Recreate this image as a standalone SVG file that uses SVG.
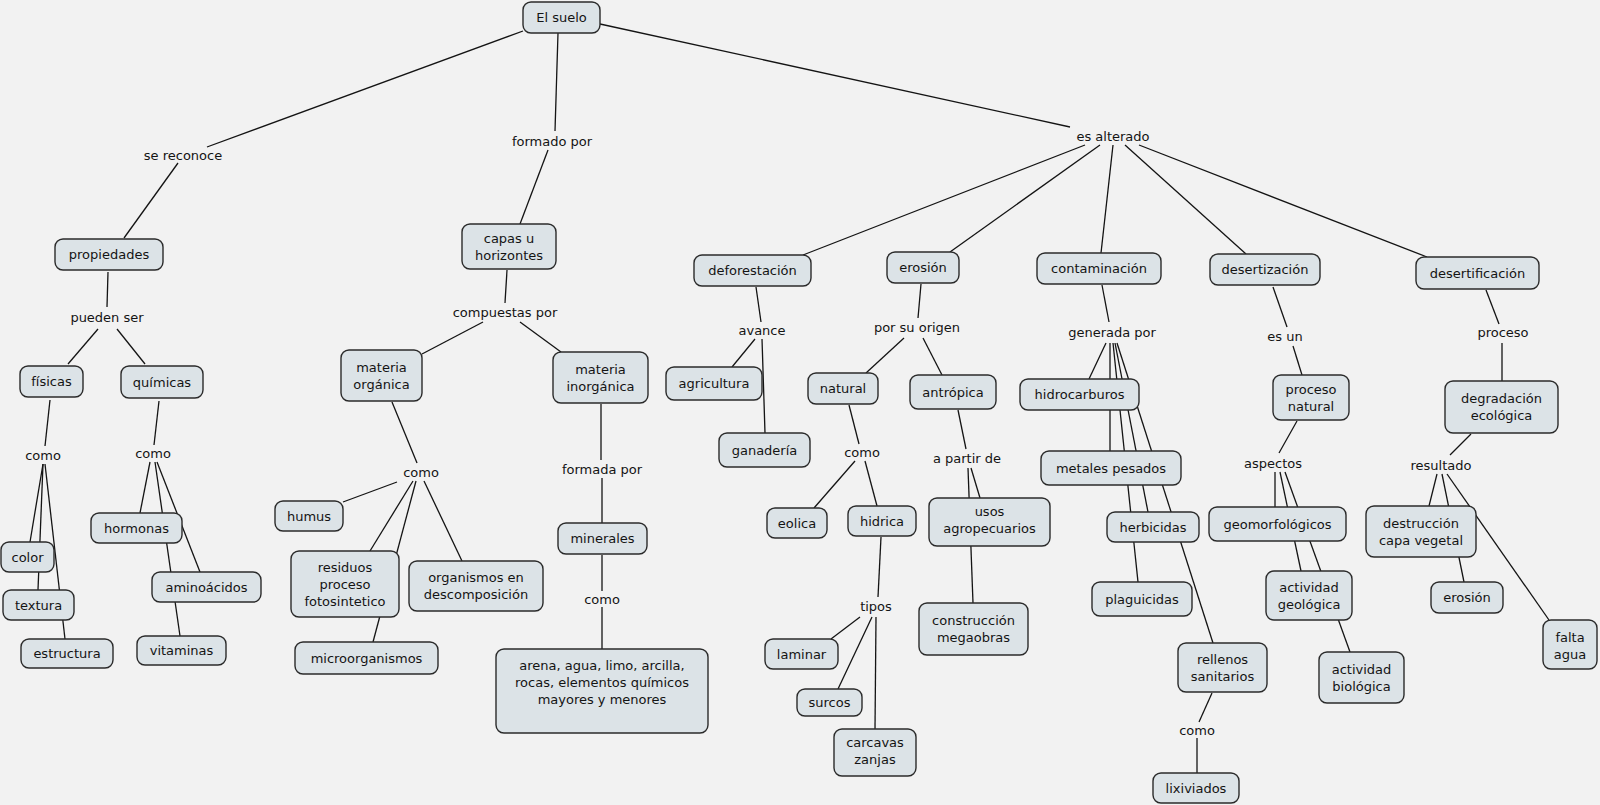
<svg xmlns="http://www.w3.org/2000/svg" width="1600" height="805" viewBox="0 0 1600 805">
<style>
.n{fill:#dce3e7;stroke:#2b2b2b;stroke-width:1.4}
text{font-family:"DejaVu Sans",Verdana,sans-serif;font-size:13px;fill:#141414;text-anchor:middle;dominant-baseline:central}
#connectors line{stroke:#141414;stroke-width:1.3}
</style>
<rect width="1600" height="805" fill="#f2f2f2"/>
<g id="connectors">
<line x1="523" y1="31" x2="207" y2="147"/>
<line x1="178" y1="163" x2="124" y2="238"/>
<line x1="108" y1="272" x2="107" y2="307"/>
<line x1="98" y1="329" x2="68" y2="364"/>
<line x1="117" y1="329" x2="145" y2="364"/>
<line x1="50" y1="400" x2="45" y2="446"/>
<line x1="43" y1="464" x2="30" y2="542"/>
<line x1="43" y1="464" x2="38" y2="590"/>
<line x1="45" y1="464" x2="65" y2="639"/>
<line x1="159" y1="401" x2="154" y2="445"/>
<line x1="150" y1="462" x2="140" y2="513"/>
<line x1="155" y1="462" x2="180" y2="636"/>
<line x1="157" y1="462" x2="200" y2="572"/>
<line x1="558" y1="33" x2="555" y2="131"/>
<line x1="548" y1="150" x2="520" y2="224"/>
<line x1="507" y1="270" x2="505" y2="303"/>
<line x1="483" y1="322" x2="422" y2="354"/>
<line x1="520" y1="322" x2="561" y2="352"/>
<line x1="392" y1="402" x2="417" y2="463"/>
<line x1="397" y1="482" x2="343" y2="502"/>
<line x1="413" y1="481" x2="370" y2="551"/>
<line x1="416" y1="481" x2="373" y2="642"/>
<line x1="424" y1="481" x2="462" y2="561"/>
<line x1="601" y1="404" x2="601" y2="460"/>
<line x1="602" y1="478" x2="602" y2="523"/>
<line x1="602" y1="555" x2="602" y2="591"/>
<line x1="602" y1="607" x2="602" y2="649"/>
<line x1="600" y1="24" x2="1070" y2="127"/>
<line x1="1085" y1="145" x2="803" y2="255"/>
<line x1="1100" y1="145" x2="950" y2="252"/>
<line x1="1113" y1="145" x2="1101" y2="253"/>
<line x1="1125" y1="145" x2="1246" y2="254"/>
<line x1="1139" y1="145" x2="1427" y2="257"/>
<line x1="756" y1="287" x2="761" y2="322"/>
<line x1="755" y1="339" x2="732" y2="367"/>
<line x1="762" y1="339" x2="765" y2="433"/>
<line x1="921" y1="284" x2="918" y2="318"/>
<line x1="904" y1="338" x2="866" y2="373"/>
<line x1="923" y1="338" x2="942" y2="375"/>
<line x1="849" y1="405" x2="859" y2="444"/>
<line x1="855" y1="461" x2="814" y2="508"/>
<line x1="865" y1="461" x2="877" y2="506"/>
<line x1="958" y1="410" x2="966" y2="449"/>
<line x1="971" y1="468" x2="980" y2="498"/>
<line x1="968" y1="468" x2="973" y2="603"/>
<line x1="881" y1="537" x2="878" y2="597"/>
<line x1="860" y1="617" x2="831" y2="639"/>
<line x1="872" y1="617" x2="838" y2="689"/>
<line x1="876" y1="617" x2="875" y2="729"/>
<line x1="1102" y1="285" x2="1109" y2="322"/>
<line x1="1106" y1="343" x2="1089" y2="379"/>
<line x1="1110" y1="343" x2="1110" y2="451"/>
<line x1="1113" y1="343" x2="1138" y2="582"/>
<line x1="1115" y1="343" x2="1148" y2="512"/>
<line x1="1117" y1="343" x2="1213" y2="643"/>
<line x1="1212" y1="693" x2="1199" y2="722"/>
<line x1="1197" y1="738" x2="1197" y2="773"/>
<line x1="1273" y1="287" x2="1287" y2="327"/>
<line x1="1293" y1="346" x2="1302" y2="375"/>
<line x1="1297" y1="421" x2="1279" y2="453"/>
<line x1="1275" y1="472" x2="1275" y2="507"/>
<line x1="1280" y1="472" x2="1301" y2="571"/>
<line x1="1285" y1="472" x2="1350" y2="652"/>
<line x1="1486" y1="290" x2="1499" y2="324"/>
<line x1="1502" y1="343" x2="1502" y2="381"/>
<line x1="1471" y1="434" x2="1450" y2="455"/>
<line x1="1437" y1="474" x2="1429" y2="506"/>
<line x1="1442" y1="474" x2="1464" y2="582"/>
<line x1="1447" y1="474" x2="1549" y2="620"/>
</g>
<g id="labels">
<g id="l-sereconoce"><text x="183" y="155">se reconoce</text></g>
<g id="l-puedenser"><text x="107" y="317">pueden ser</text></g>
<g id="l-como1"><text x="43" y="455">como</text></g>
<g id="l-como2"><text x="153" y="453">como</text></g>
<g id="l-formadopor"><text x="552" y="141">formado por</text></g>
<g id="l-compuestas"><text x="505" y="312">compuestas por</text></g>
<g id="l-como3"><text x="421" y="472">como</text></g>
<g id="l-formada"><text x="602" y="469">formada por</text></g>
<g id="l-como4"><text x="602" y="599">como</text></g>
<g id="l-esalterado"><text x="1113" y="136">es alterado</text></g>
<g id="l-avance"><text x="762" y="330">avance</text></g>
<g id="l-origen"><text x="917" y="327">por su origen</text></g>
<g id="l-como5"><text x="862" y="452">como</text></g>
<g id="l-apartir"><text x="967" y="458">a partir de</text></g>
<g id="l-tipos"><text x="876" y="606">tipos</text></g>
<g id="l-generada"><text x="1112" y="332">generada por</text></g>
<g id="l-como6"><text x="1197" y="730">como</text></g>
<g id="l-esun"><text x="1285" y="336">es un</text></g>
<g id="l-aspectos"><text x="1273" y="463">aspectos</text></g>
<g id="l-proceso"><text x="1503" y="332">proceso</text></g>
<g id="l-resultado"><text x="1441" y="465">resultado</text></g>
</g>
<g id="n-suelo"><rect class="n" x="523" y="2" width="77" height="31" rx="8"/><text x="561.5" y="17.5">El suelo</text></g>
<g id="n-propiedades"><rect class="n" x="55" y="239" width="108" height="31" rx="8"/><text x="109" y="254.5">propiedades</text></g>
<g id="n-fisicas"><rect class="n" x="20" y="366" width="63" height="31" rx="8"/><text x="51.5" y="381.5">físicas</text></g>
<g id="n-quimicas"><rect class="n" x="121" y="366" width="82" height="32" rx="8"/><text x="162" y="382">químicas</text></g>
<g id="n-color"><rect class="n" x="1" y="542" width="53" height="30" rx="8"/><text x="27.5" y="557">color</text></g>
<g id="n-textura"><rect class="n" x="3" y="590" width="71" height="30" rx="8"/><text x="38.5" y="605">textura</text></g>
<g id="n-estructura"><rect class="n" x="21" y="639" width="92" height="29" rx="8"/><text x="67" y="653.5">estructura</text></g>
<g id="n-hormonas"><rect class="n" x="91" y="513" width="91" height="30" rx="8"/><text x="136.5" y="528">hormonas</text></g>
<g id="n-aminoacidos"><rect class="n" x="152" y="572" width="109" height="30" rx="8"/><text x="206.5" y="587">aminoácidos</text></g>
<g id="n-vitaminas"><rect class="n" x="137" y="636" width="89" height="29" rx="8"/><text x="181.5" y="650.5">vitaminas</text></g>
<g id="n-capas"><rect class="n" x="462" y="224" width="94" height="45" rx="8"/><text x="509" y="238">capas u</text><text x="509" y="255">horizontes</text></g>
<g id="n-morganica"><rect class="n" x="341" y="350" width="81" height="51" rx="8"/><text x="381.5" y="367">materia</text><text x="381.5" y="384">orgánica</text></g>
<g id="n-minorganica"><rect class="n" x="553" y="352" width="95" height="51" rx="8"/><text x="600.5" y="369">materia</text><text x="600.5" y="386">inorgánica</text></g>
<g id="n-humus"><rect class="n" x="275" y="501" width="68" height="30" rx="8"/><text x="309" y="516">humus</text></g>
<g id="n-residuos"><rect class="n" x="291" y="551" width="108" height="66" rx="8"/><text x="345" y="567">residuos</text><text x="345" y="584">proceso</text><text x="345" y="601">fotosintetico</text></g>
<g id="n-organismos"><rect class="n" x="409" y="561" width="134" height="50" rx="8"/><text x="476" y="577">organismos en</text><text x="476" y="594">descomposición</text></g>
<g id="n-micro"><rect class="n" x="295" y="642" width="143" height="32" rx="8"/><text x="366.5" y="658">microorganismos</text></g>
<g id="n-minerales"><rect class="n" x="558" y="523" width="89" height="31" rx="8"/><text x="602.5" y="538.5">minerales</text></g>
<g id="n-arena"><rect class="n" x="496" y="649" width="212" height="84" rx="8"/><text x="602" y="665">arena, agua, limo, arcilla,</text><text x="602" y="682">rocas, elementos químicos</text><text x="602" y="699">mayores y menores</text></g>
<g id="n-deforestacion"><rect class="n" x="694" y="255" width="117" height="31" rx="8"/><text x="752.5" y="270.5">deforestación</text></g>
<g id="n-erosion"><rect class="n" x="887" y="252" width="72" height="31" rx="8"/><text x="923" y="267.5">erosión</text></g>
<g id="n-contaminacion"><rect class="n" x="1037" y="253" width="124" height="31" rx="8"/><text x="1099" y="268.5">contaminación</text></g>
<g id="n-desertizacion"><rect class="n" x="1210" y="254" width="110" height="31" rx="8"/><text x="1265" y="269.5">desertización</text></g>
<g id="n-desertificacion"><rect class="n" x="1416" y="257" width="123" height="32" rx="8"/><text x="1477.5" y="273">desertificación</text></g>
<g id="n-agricultura"><rect class="n" x="666" y="367" width="96" height="33" rx="8"/><text x="714" y="383.5">agricultura</text></g>
<g id="n-ganaderia"><rect class="n" x="719" y="433" width="91" height="34" rx="8"/><text x="764.5" y="450">ganadería</text></g>
<g id="n-natural"><rect class="n" x="808" y="373" width="70" height="31" rx="8"/><text x="843" y="388.5">natural</text></g>
<g id="n-antropica"><rect class="n" x="910" y="375" width="86" height="34" rx="8"/><text x="953" y="392">antrópica</text></g>
<g id="n-eolica"><rect class="n" x="767" y="508" width="60" height="30" rx="8"/><text x="797" y="523">eolica</text></g>
<g id="n-hidrica"><rect class="n" x="848" y="506" width="68" height="30" rx="8"/><text x="882" y="521">hidrica</text></g>
<g id="n-usos"><rect class="n" x="929" y="498" width="121" height="48" rx="8"/><text x="989.5" y="511">usos</text><text x="989.5" y="528">agropecuarios</text></g>
<g id="n-construccion"><rect class="n" x="919" y="603" width="109" height="52" rx="8"/><text x="973.5" y="620">construcción</text><text x="973.5" y="637">megaobras</text></g>
<g id="n-laminar"><rect class="n" x="765" y="639" width="73" height="30" rx="8"/><text x="801.5" y="654">laminar</text></g>
<g id="n-surcos"><rect class="n" x="797" y="689" width="65" height="27" rx="8"/><text x="829.5" y="702.5">surcos</text></g>
<g id="n-carcavas"><rect class="n" x="834" y="729" width="82" height="47" rx="8"/><text x="875" y="742">carcavas</text><text x="875" y="759">zanjas</text></g>
<g id="n-hidrocarburos"><rect class="n" x="1020" y="379" width="119" height="31" rx="8"/><text x="1079.5" y="394.5">hidrocarburos</text></g>
<g id="n-metales"><rect class="n" x="1041" y="451" width="140" height="34" rx="8"/><text x="1111" y="468">metales pesados</text></g>
<g id="n-herbicidas"><rect class="n" x="1107" y="512" width="92" height="30" rx="8"/><text x="1153" y="527">herbicidas</text></g>
<g id="n-plaguicidas"><rect class="n" x="1092" y="582" width="100" height="34" rx="8"/><text x="1142" y="599">plaguicidas</text></g>
<g id="n-rellenos"><rect class="n" x="1178" y="643" width="89" height="49" rx="8"/><text x="1222.5" y="659">rellenos</text><text x="1222.5" y="676">sanitarios</text></g>
<g id="n-lixiviados"><rect class="n" x="1153" y="773" width="86" height="30" rx="8"/><text x="1196" y="788">lixiviados</text></g>
<g id="n-proceso-natural"><rect class="n" x="1273" y="375" width="76" height="45" rx="8"/><text x="1311" y="389">proceso</text><text x="1311" y="406">natural</text></g>
<g id="n-geomorfologicos"><rect class="n" x="1209" y="507" width="137" height="34" rx="8"/><text x="1277.5" y="524">geomorfológicos</text></g>
<g id="n-act-geo"><rect class="n" x="1266" y="571" width="86" height="49" rx="8"/><text x="1309" y="587">actividad</text><text x="1309" y="604">geológica</text></g>
<g id="n-act-bio"><rect class="n" x="1319" y="652" width="85" height="51" rx="8"/><text x="1361.5" y="669">actividad</text><text x="1361.5" y="686">biológica</text></g>
<g id="n-degradacion"><rect class="n" x="1445" y="381" width="113" height="52" rx="8"/><text x="1501.5" y="398">degradación</text><text x="1501.5" y="415">ecológica</text></g>
<g id="n-destruccion"><rect class="n" x="1366" y="506" width="110" height="51" rx="8"/><text x="1421" y="523">destrucción</text><text x="1421" y="540">capa vegetal</text></g>
<g id="n-erosion2"><rect class="n" x="1431" y="582" width="72" height="31" rx="8"/><text x="1467" y="597.5">erosión</text></g>
<g id="n-falta"><rect class="n" x="1543" y="620" width="54" height="49" rx="8"/><text x="1570" y="637">falta</text><text x="1570" y="654">agua</text></g>
</svg>
